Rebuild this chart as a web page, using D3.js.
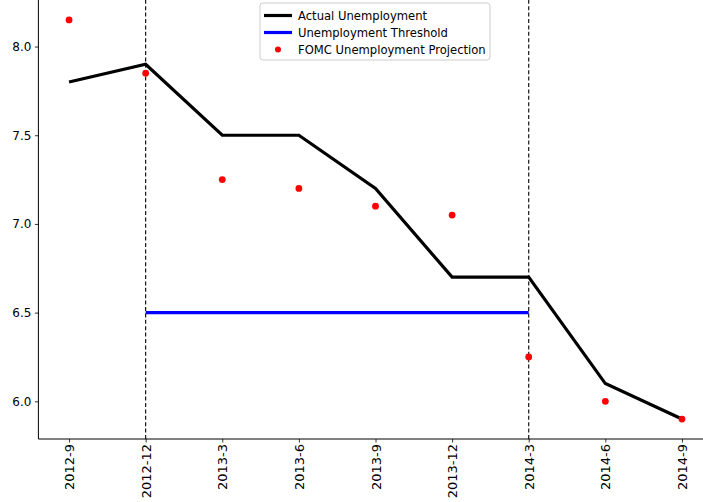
<!DOCTYPE html>
<html>
<head>
<meta charset="utf-8">
<script src="https://cdn.jsdelivr.net/npm/d3@7"></script>
<style>
  body { margin: 0; background: #fff; }
  svg { display: block; font-family: "DejaVu Sans", sans-serif; }
</style>
</head>
<body>
<svg id="chart" width="703" height="502"></svg>
<script>
// 数据
var quarters = ["2012-9", "2012-12", "2013-3", "2013-6", "2013-9", "2013-12", "2014-3", "2014-6", "2014-9"];
var actualRate = [7.8, 7.9, 7.5, 7.5, 7.2, 6.7, 6.7, 6.1, 5.9];
var fomcProjection = [8.15, 7.85, 7.25, 7.2, 7.1, 7.05, 6.25, 6.0, 5.9];
var thresholdValue = 6.5;
var thresholdSpan = ["2012-12", "2014-3"];
var yTicks = [6.0, 6.5, 7.0, 7.5, 8.0];

var svg = d3.select("#chart");
var plotLeft = 38.4, plotRight = 712.6, plotTop = 0, plotBottom = 439;

// 比例尺 (matplotlib 默认 5% 边距)
var x = d3.scaleLinear().domain([-0.4, quarters.length - 1 + 0.4]).range([plotLeft, plotRight]);
var yMin = 5.9, yMax = 8.15, pad = (yMax - yMin) * 0.05;
var y = d3.scaleLinear().domain([yMin - pad, yMax + pad]).range([plotBottom, plotTop]);

var plot = svg.append("g");

// 竖直虚线
thresholdSpan.forEach(function (q) {
    var xi = x(quarters.indexOf(q));
    plot.append("line")
        .attr("x1", xi).attr("x2", xi)
        .attr("y1", plotBottom).attr("y2", plotTop)
        .attr("stroke", "#000").attr("stroke-width", 1.1)
        .attr("stroke-dasharray", "4,2.4");
});

// 阈值线
var i0 = quarters.indexOf(thresholdSpan[0]), i1 = quarters.indexOf(thresholdSpan[1]);
plot.append("line")
    .attr("x1", x(i0)).attr("x2", x(i1))
    .attr("y1", y(thresholdValue)).attr("y2", y(thresholdValue))
    .attr("stroke", "#0000ff").attr("stroke-width", 3.2);

// 实际失业率
var line = d3.line().x(function (d, i) { return x(i); }).y(function (d) { return y(d); });
plot.append("path")
    .datum(actualRate)
    .attr("d", line)
    .attr("fill", "none")
    .attr("stroke", "#000").attr("stroke-width", 3.2)
    .attr("stroke-linejoin", "miter").attr("stroke-linecap", "butt");

// FOMC 预测点
plot.selectAll("circle.proj")
    .data(fomcProjection)
    .enter().append("circle")
    .attr("class", "proj")
    .attr("cx", function (d, i) { return x(i); })
    .attr("cy", function (d) { return y(d); })
    .attr("r", 3.4)
    .attr("fill", "#ff0000");

// 坐标轴
var xAxis = d3.axisBottom(x)
    .tickValues(d3.range(quarters.length))
    .tickFormat(function (i) { return quarters[i]; })
    .tickSize(3.5).tickPadding(3);
var gx = svg.append("g").attr("transform", "translate(0," + plotBottom + ")").call(xAxis);
gx.selectAll("text")
    .attr("transform", "rotate(-90)")
    .attr("text-anchor", "end")
    .attr("x", -5).attr("y", 0).attr("dy", "0.35em")
    .attr("font-size", 13);

var yAxis = d3.axisLeft(y)
    .tickValues(yTicks)
    .tickFormat(d3.format(".1f"))
    .tickSize(3.5).tickPadding(3.5);
var gy = svg.append("g").attr("transform", "translate(" + plotLeft + ",0)").call(yAxis);
gy.selectAll("text").attr("font-size", 12);

[gx, gy].forEach(function (g) {
    g.select(".domain").attr("stroke", "#000").attr("stroke-width", 1);
    g.selectAll(".tick line").attr("stroke", "#000").attr("stroke-width", 0.8);
    g.selectAll("text").attr("fill", "#000")
        .style("font-family", "DejaVu Sans, sans-serif");
});
gx.select(".domain").attr("d", "M" + plotLeft + ",0H" + plotRight);
gy.select(".domain").attr("d", "M0," + plotBottom + "V" + plotTop);

// 图例
var legendItems = [
    { label: "Actual Unemployment", type: "line", color: "#000" },
    { label: "Unemployment Threshold", type: "line", color: "#0000ff" },
    { label: "FOMC Unemployment Projection", type: "dot", color: "#ff0000" }
];
var lg = svg.append("g").attr("transform", "translate(260,3)");
lg.append("rect")
    .attr("x", 0).attr("y", 0).attr("width", 230).attr("height", 57)
    .attr("rx", 3).attr("fill", "#fff").attr("fill-opacity", 0.8)
    .attr("stroke", "#cccccc").attr("stroke-width", 1);
legendItems.forEach(function (d, i) {
    var cy = 12.5 + i * 17;
    if (d.type === "line") {
        lg.append("line").attr("x1", 4).attr("x2", 32).attr("y1", cy).attr("y2", cy)
            .attr("stroke", d.color).attr("stroke-width", 3.2);
    } else {
        lg.append("circle").attr("cx", 18).attr("cy", cy).attr("r", 3).attr("fill", d.color);
    }
    lg.append("text").attr("x", 38).attr("y", cy).attr("dy", "0.35em")
        .attr("font-size", 11.6).attr("fill", "#000").text(d.label);
});
</script>
</body>
</html>
